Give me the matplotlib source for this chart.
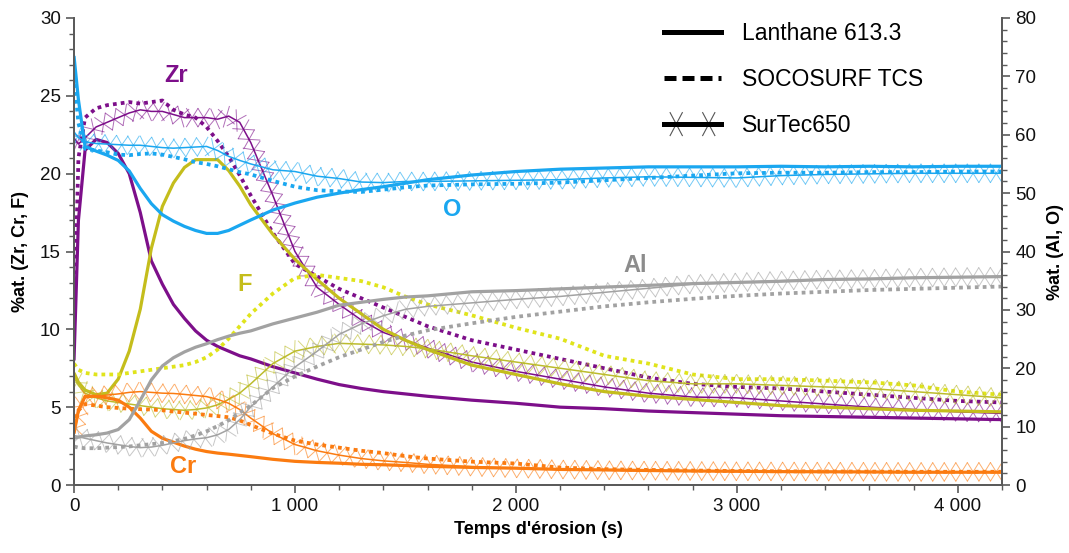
import numpy as np
import matplotlib
matplotlib.use("Agg")
import matplotlib.pyplot as plt
from matplotlib.lines import Line2D
from matplotlib.ticker import MultipleLocator, FuncFormatter
import matplotlib.patheffects as pe

plt.rcParams['font.family'] = ['Liberation Sans', 'DejaVu Sans']

# temps d'érosion (s)
t = [0, 20, 50, 100, 150, 200, 250, 300, 350, 400, 450, 500, 550, 600, 650, 700, 750, 800,
     900, 1000, 1100, 1200, 1300, 1400, 1500, 1600, 1800, 2000, 2200, 2400, 2600, 2800,
     3000, 3200, 3400, 3600, 3800, 4000, 4200]

# --- left axis (%at. Zr, Cr, F) ---
zr_lan = [8.0, 17.0, 21.5, 22.2, 22.0, 21.3, 20.0, 17.5, 14.4, 12.9, 11.6, 10.7, 9.9, 9.3, 8.9,
          8.6, 8.3, 8.1, 7.6, 7.2, 6.8, 6.45, 6.2, 6.0, 5.85, 5.7, 5.45, 5.25, 5.0, 4.9, 4.75,
          4.65, 4.55, 4.45, 4.4, 4.35, 4.3, 4.25, 4.2]
zr_soc = [10.0, 21.0, 23.6, 24.2, 24.4, 24.5, 24.6, 24.5, 24.6, 24.7, 24.1, 23.8, 23.6, 23.0,
          22.1, 21.1, 19.9, 18.6, 16.2, 14.2, 13.4, 12.6, 12.0, 11.4, 10.8, 10.2, 9.3, 8.7,
          8.1, 7.5, 6.9, 6.5, 6.3, 6.2, 6.0, 5.8, 5.6, 5.4, 5.3]
zr_sur = [22.3, 21.9, 22.3, 23.0, 23.3, 23.6, 23.9, 24.1, 24.0, 24.0, 23.8, 23.6, 23.6, 23.6,
          23.5, 23.7, 23.3, 22.0, 18.6, 15.0, 12.7, 11.6, 10.6, 9.8, 9.3, 8.8, 7.9, 7.3, 6.8,
          6.3, 5.9, 5.65, 5.6, 5.4, 5.2, 5.0, 4.85, 4.7, 4.6]

f_lan = [7.2, 6.6, 6.1, 5.8, 5.9, 6.8, 8.6, 11.3, 15.2, 17.9, 19.4, 20.4, 20.9, 20.9, 20.9,
         20.2, 19.2, 18.0, 16.1, 14.5, 13.2, 12.0, 11.0, 10.0, 9.3, 8.7, 7.7, 7.1, 6.5, 6.0,
         5.7, 5.5, 5.3, 5.1, 5.0, 4.9, 4.8, 4.75, 4.7]
f_soc = [7.8, 7.4, 7.2, 7.1, 7.1, 7.1, 7.2, 7.3, 7.4, 7.5, 7.6, 7.7, 7.9, 8.2, 8.7, 9.4, 10.2,
         11.0, 12.3, 13.3, 13.5, 13.3, 13.1, 12.7, 12.1, 11.6, 10.9, 10.1, 9.4, 8.3, 7.8, 7.1,
         6.8, 6.8, 6.7, 6.6, 6.4, 6.0, 5.8]
f_sur = [6.9, 6.4, 5.9, 5.6, 5.4, 5.3, 5.2, 5.1, 5.0, 4.9, 4.85, 4.8, 4.85, 4.95, 5.15, 5.5,
         5.9, 6.5, 7.8, 8.6, 8.9, 9.1, 9.05, 9.0, 8.9, 8.75, 8.3, 7.9, 7.5, 7.1, 6.7, 6.5, 6.5,
         6.4, 6.3, 6.2, 6.0, 5.8, 5.6]

cr_lan = [3.3, 4.8, 5.7, 5.7, 5.6, 5.45, 5.0, 4.3, 3.45, 3.0, 2.75, 2.5, 2.3, 2.15, 2.05, 1.98,
          1.9, 1.82, 1.65, 1.52, 1.45, 1.4, 1.33, 1.3, 1.25, 1.2, 1.13, 1.08, 1.0, 0.97, 0.93,
          0.9, 0.88, 0.86, 0.85, 0.84, 0.82, 0.82, 0.82]
cr_soc = [3.8, 4.8, 5.2, 5.1, 5.0, 4.95, 4.9, 4.87, 4.85, 4.8, 4.72, 4.65, 4.58, 4.5, 4.43, 4.35,
          4.15, 3.85, 3.3, 2.85, 2.6, 2.4, 2.2, 2.05, 1.85, 1.7, 1.5, 1.38, 1.12, 1.02, 0.97,
          0.93, 0.9, 0.88, 0.87, 0.86, 0.85, 0.85, 0.85]
cr_sur = [3.3, 4.6, 5.6, 5.7, 5.78, 5.85, 5.95, 6.0, 5.95, 5.9, 5.88, 5.82, 5.75, 5.68, 5.5,
          5.25, 4.85, 4.3, 3.3, 2.6, 2.2, 1.92, 1.7, 1.55, 1.45, 1.33, 1.18, 1.07, 1.0, 0.95,
          0.92, 0.9, 0.88, 0.87, 0.86, 0.85, 0.84, 0.84, 0.85]

# --- right axis (%at. Al, O) ---
o_lan = [73.5, 66.0, 58.0, 57.2, 56.5, 55.6, 53.8, 50.8, 48.2, 46.3, 45.2, 44.3, 43.6, 43.1,
         43.1, 43.6, 44.5, 45.4, 47.1, 48.3, 49.3, 50.0, 50.6, 51.1, 51.7, 52.3, 53.1, 53.7,
         54.1, 54.3, 54.5, 54.5, 54.5, 54.6, 54.5, 54.6, 54.5, 54.6, 54.6]
o_soc = [70.0, 62.0, 57.6, 57.3, 57.0, 56.6, 56.5, 56.7, 56.8, 56.6, 56.2, 55.8, 55.3, 55.0,
         54.6, 54.1, 53.6, 53.2, 52.1, 51.1, 50.5, 50.3, 50.2, 50.6, 51.0, 51.3, 51.5, 51.6,
         51.8, 52.2, 52.6, 53.0, 53.4, 53.5, 53.5, 53.6, 53.6, 53.7, 53.7]
o_sur = [60.5, 59.5, 58.8, 58.5, 58.4, 58.3, 58.2, 58.2, 58.0, 57.8, 57.7, 57.8, 57.9, 58.0,
         57.3, 56.3, 55.6, 55.0, 54.0, 53.7, 52.9, 52.5, 51.9, 51.8, 52.0, 52.0, 52.1, 52.2,
         52.3, 52.6, 52.8, 52.7, 52.6, 53.0, 53.2, 53.3, 53.4, 53.4, 53.4]

al_lan = [8.0, 8.2, 8.4, 8.6, 8.9, 9.5, 11.2, 14.5, 18.0, 20.4, 21.8, 22.8, 23.6, 24.2, 24.9,
          25.5, 26.0, 26.4, 27.6, 28.6, 29.6, 30.8, 31.3, 31.8, 32.2, 32.4, 33.1, 33.3, 33.6,
          33.9, 34.2, 34.5, 34.7, 34.9, 35.2, 35.3, 35.5, 35.6, 35.7]
al_soc = [6.6, 6.4, 6.3, 6.3, 6.4, 6.5, 6.6, 6.8, 7.0, 7.2, 7.5, 7.9, 8.5, 9.2, 10.1, 11.1,
          12.4, 13.6, 16.6, 18.6, 20.3, 21.9, 23.2, 24.5, 25.6, 26.5, 27.7, 28.8, 29.7, 30.6,
          31.3, 31.9, 32.4, 32.8, 33.1, 33.4, 33.6, 33.8, 34.0]
al_sur = [8.5, 8.3, 8.0, 7.6, 7.2, 6.9, 6.6, 6.4, 6.5, 6.8, 7.2, 7.6, 7.9, 8.1, 8.6, 9.5, 11.2,
          13.4, 16.8, 20.2, 22.9, 25.8, 27.6, 29.0, 30.1, 30.6, 31.2, 31.8, 32.3, 33.0, 33.7,
          34.4, 34.7, 35.0, 35.2, 35.3, 35.5, 35.6, 35.7]

PURPLE = '#7d0f8a'
BLUE = '#1aa7f0'
OLIVE = '#c4bd1c'
YELLOW = '#e0e41c'
ORANGE = '#fb7b10'
GRAY = '#a2a2a2'


def xmarks(color, spacing=8.3, length=0.93, angle=58):
    # draw crossed ticks along the path, like the "x" markers of the original
    kw = dict(foreground=color, linewidth=0.7, alpha=0.6)
    return [pe.TickedStroke(spacing=spacing, angle=a, length=length, **kw)
            for a in (angle, angle - 180, -angle, 180 - angle)] + [pe.Normal()]


def draw_set(ax, lan, soc, sur, c_lan, c_soc, c_sur):
    ax.plot(t, lan, color=c_lan, lw=2.3, solid_capstyle='butt')
    ax.plot(t, soc, color=c_soc, lw=2.7, linestyle=(0, (1.0, 1.1)), dash_capstyle='butt')
    ax.plot(t, sur, color=c_sur, lw=1.1, path_effects=xmarks(c_sur))


fig = plt.figure(figsize=(10.69, 5.53), dpi=100)
ax = fig.add_axes([74 / 1069, 1 - 485 / 553, 928 / 1069, 467 / 553])
ax2 = ax.twinx()

draw_set(ax, zr_lan, zr_soc, zr_sur, PURPLE, PURPLE, PURPLE)
draw_set(ax, f_lan, f_soc, f_sur, OLIVE, YELLOW, '#bcbc2c')
draw_set(ax, cr_lan, cr_soc, cr_sur, ORANGE, ORANGE, ORANGE)
draw_set(ax2, al_lan, al_soc, al_sur, GRAY, GRAY, GRAY)
draw_set(ax2, o_lan, o_soc, o_sur, BLUE, BLUE, BLUE)

ax.set_xlim(0, 4200)
ax.set_ylim(0, 30)
ax2.set_ylim(0, 80)

ax.xaxis.set_major_locator(MultipleLocator(1000))
ax.xaxis.set_minor_locator(MultipleLocator(200))
ax.xaxis.set_major_formatter(FuncFormatter(lambda v, p: f"{int(v):,}".replace(",", " ")))
ax.yaxis.set_major_locator(MultipleLocator(5))
ax.yaxis.set_minor_locator(MultipleLocator(1))
ax2.yaxis.set_major_locator(MultipleLocator(10))
ax2.yaxis.set_minor_locator(MultipleLocator(2))

spine_c = '#5a5a5a'
for a in (ax, ax2):
    a.spines['top'].set_visible(False)
    for s in ('left', 'right', 'bottom'):
        a.spines[s].set_color(spine_c)
        a.spines[s].set_linewidth(1.3)
    a.tick_params(which='major', direction='out', length=6, width=1.2, color=spine_c,
                  labelsize=13.5, labelcolor='#111111')
    a.tick_params(which='minor', direction='out', length=3.5, width=1.0, color=spine_c)

ax.set_xlabel("Temps d'érosion (s)", fontsize=13, fontweight='bold', labelpad=4)
ax.set_ylabel("%at. (Zr, Cr, F)", fontsize=13, fontweight='bold', labelpad=8)
ax2.set_ylabel("%at. (Al, O)", fontsize=13, fontweight='bold', labelpad=8)

# element labels
lab_kw = dict(fontsize=17, fontweight='bold', ha='center', va='center')
ax.text(460, 26.3, "Zr", color=PURPLE, **lab_kw)
ax.text(770, 12.9, "F", color=OLIVE, **lab_kw)
ax.text(495, 1.2, "Cr", color=ORANGE, **lab_kw)
ax2.text(1710, 47.2, "O", color=BLUE, **lab_kw)
ax2.text(2540, 37.6, "Al", color='#8c8c8c', **lab_kw)

# legend (line styles)
h_lan = Line2D([], [], color='black', lw=3.6)
h_soc = Line2D([], [], color='black', lw=3.6, linestyle=(0, (2.4, 1.2)))
h_sur = Line2D([], [], color='black', lw=3.6,
               path_effects=[pe.TickedStroke(spacing=17, angle=a, length=0.55,
                                             foreground='#555555', linewidth=0.8)
                             for a in (62, -118, -62, 118)] + [pe.Normal()])
leg = ax.legend([h_lan, h_soc, h_sur], ["Lanthane 613.3", "SOCOSURF TCS", "SurTec650"],
                loc='upper left', bbox_to_anchor=(0.614, 1.035), frameon=False,
                fontsize=16.5, handlelength=2.45, handletextpad=0.95, labelspacing=1.0)

fig.savefig("out.png", dpi=100)
